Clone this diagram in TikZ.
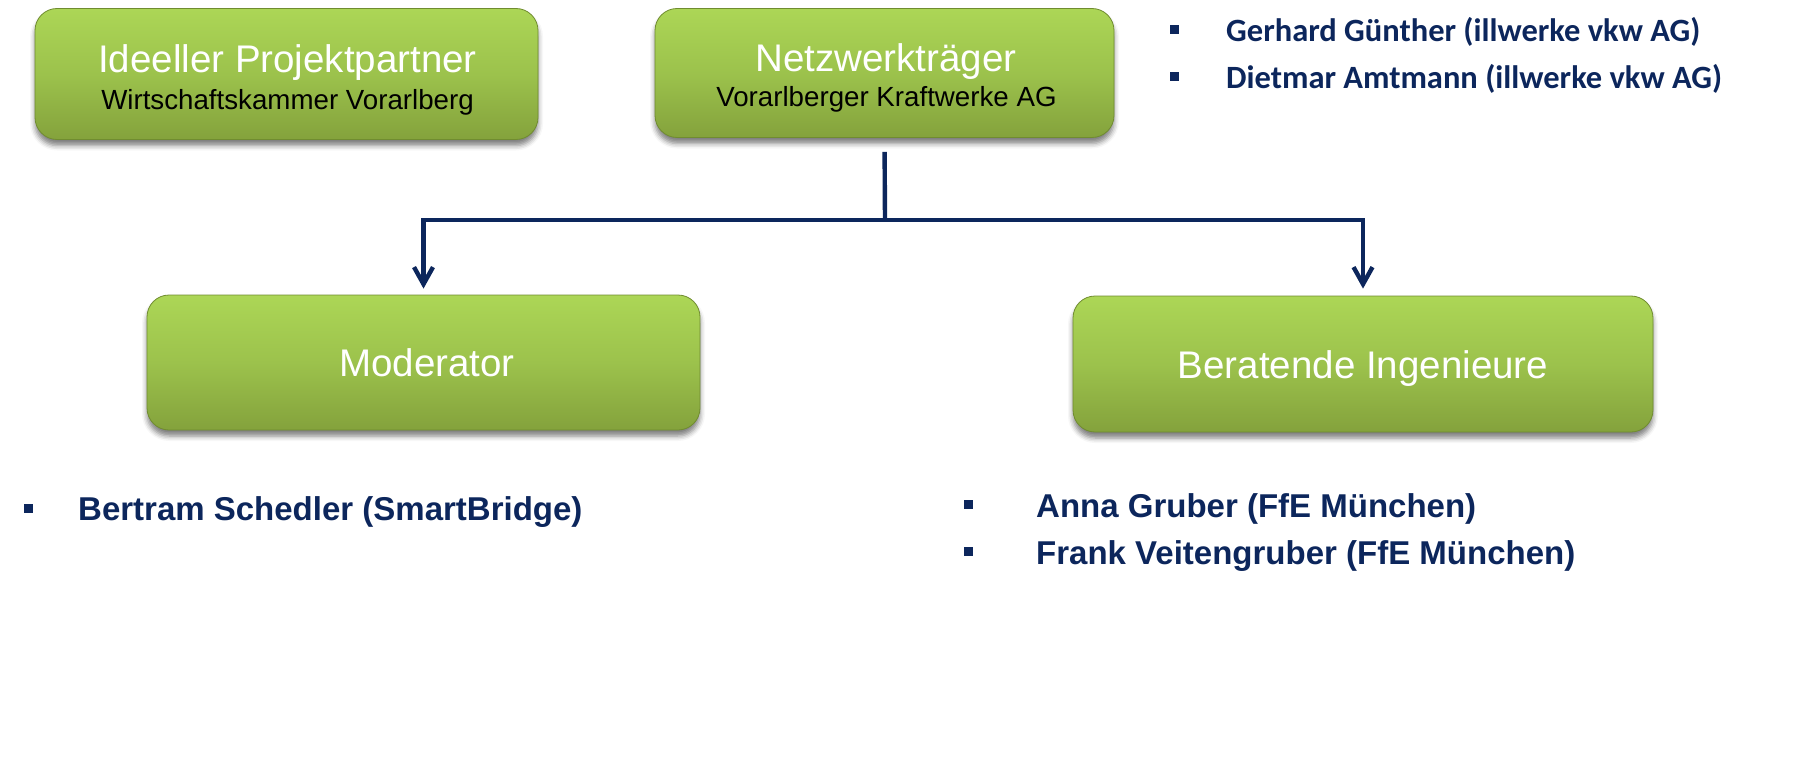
\documentclass[tikz,border=0pt]{standalone}
\usepackage{fontspec}
\setmainfont{Liberation Sans}
\newfontfamily\calfont{Carlito}
\usetikzlibrary{arrows.meta,shadows.blur}
\definecolor{navy}{RGB}{12,38,92}
\definecolor{gtop}{RGB}{172,214,86}
\definecolor{gmid}{RGB}{156,194,76}
\definecolor{gbot}{RGB}{132,162,60}
\definecolor{gedge}{RGB}{112,140,48}
\definecolor{ghigh}{RGB}{205,238,120}
\begin{document}
\begin{tikzpicture}[x=1pt,y=-1pt,
  gbox/.style={rounded corners=22pt, top color=gtop, bottom color=gbot, middle color=gmid,
    draw=gedge, line width=0.8pt, inner sep=0pt,
    blur shadow={shadow xshift=0pt, shadow yshift=-6pt, shadow blur radius=5pt, shadow opacity=50}},
  title/.style={anchor=base, inner sep=0pt, text=white, font=\fontsize{38.5}{44}\selectfont},
  sub/.style={anchor=base, inner sep=0pt, text=black, font=\fontsize{27.7}{32}\selectfont},
  person/.style={anchor=base west, inner sep=0pt, text=navy, font=\bfseries\fontsize{33}{38}\selectfont},
  cperson/.style={anchor=base west, inner sep=0pt, text=navy, font=\calfont\bfseries\fontsize{32.5}{38}\selectfont},
  bsq/.style={fill=navy, minimum size=9pt, inner sep=0pt, draw=none},
  conn/.style={draw=navy, line width=4.4pt},
  arr/.style={-{Straight Barb[length=17pt,width=19pt]}}
]
\useasboundingbox (0,0) rectangle (1812,765);

% boxes
\node[gbox, minimum width=503pt, minimum height=131pt] (ideell) at (286.5,74) {};
\node[gbox, minimum width=459pt, minimum height=129pt] (net) at (884.5,73) {};
\node[gbox, minimum width=553pt, minimum height=135pt] (mod) at (423.5,362.5) {};
\node[gbox, minimum width=580pt, minimum height=136pt] (ber) at (1363,364) {};

% box texts
\node[title] (t1) at (287.5,73) {Ideeller Projektpartner};
\node[sub] (s1) at (287.5,110) {Wirtschaftskammer Vorarlberg};
\node[title] (t2) at (886,72) {Netzwerkträger};
\node[sub] (s2) at (886.5,107) {Vorarlberger Kraftwerke AG};
\node[title] (t3) at (427,376) {Moderator};
\node[title] (t4) at (1363,378) {Beratende Ingenieure};

% connectors
\coordinate (split) at (885,220);
\draw[conn, shorten <=14pt] (net.south) -- (split);
\draw[conn, arr, shorten >=6pt] (split) -| (mod.north);
\draw[conn, arr, shorten >=7pt] (split) -| (ber.north);

% top right people
\node[bsq] (q1) at (1174.5,30) {};
\node[cperson] (p1) at (1226,42) {Gerhard Günther (illwerke vkw AG)};
\node[bsq] (q2) at (1174.5,77) {};
\node[cperson] (p2) at (1226,89) {Dietmar Amtmann (illwerke vkw AG)};

% moderator people
\node[bsq] (q3) at (28,508.5) {};
\node[person] (p3) at (78,520) {Bertram Schedler (SmartBridge)};

% engineers
\node[bsq] (q4) at (968.5,504.5) {};
\node[person] (p4) at (1036,517) {Anna Gruber (FfE München)};
\node[bsq] (q5) at (968.5,551.5) {};
\node[person] (p5) at (1036,564) {Frank Veitengruber (FfE München)};
\end{tikzpicture}
\end{document}
